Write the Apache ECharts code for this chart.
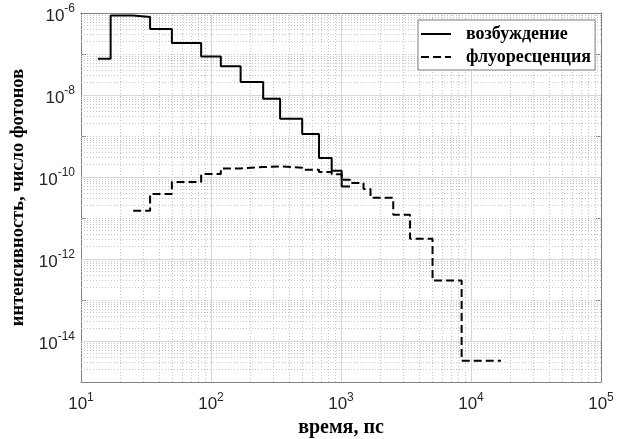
<!DOCTYPE html>
<html><head><meta charset="utf-8">
<script src="https://cdn.jsdelivr.net/npm/echarts@6/dist/echarts.min.js"></script>
<style>html,body{margin:0;padding:0;background:#fff}#c{width:630px;height:439px}</style>
</head><body><div id="c"></div>
<script>
// ---- data ----
const excitationEdges = [13.5, 16.9, 25.2, 34, 50, 84, 119, 169, 252, 340, 503, 677, 848, 1012, 1172];
const excitationValues = [7.7e-8, 8.7e-7, 8.0e-7, 4.1e-7, 1.85e-7, 8.7e-8, 5.0e-8, 2.07e-8, 8.1e-9, 2.64e-9, 1.12e-9, 2.9e-10, 1.43e-10, 5.9e-11];
const fluorescenceEdges = [25.2, 34, 50, 84, 119, 169, 252, 340, 503, 677, 848, 1012, 1172, 1489, 1686, 2523, 3396, 5060, 8470, 17000];
const fluorescenceValues = [1.51e-11, 3.85e-11, 7.55e-11, 1.18e-10, 1.62e-10, 1.75e-10, 1.81e-10, 1.69e-10, 1.51e-10, 1.32e-10, 1.16e-10, 8.6e-11, 7.1e-11, 5.1e-11, 3.1e-11, 1.2e-11, 3.1e-12, 3.0e-13, 3.3e-15];
const seriesNames = ['возбуждение', 'флуоресценция'];
const xTickExponents = [1, 2, 3, 4, 5];
const yTickExponents = [-14, -12, -10, -8, -6];
const xAxisName = 'время, пс';
const yAxisName = 'интенсивность, число фотонов';

// ---- build ----
function stepPoints(edges, vals) {
  const pts = [];
  for (let i = 0; i < vals.length; i++) {
    pts.push([edges[i], vals[i]]);
    pts.push([edges[i + 1], vals[i]]);
  }
  return pts;
}
const xMinExp = xTickExponents[0], xMaxExp = xTickExponents[xTickExponents.length - 1];
const yMinExp = -15, yMaxExp = yTickExponents[yTickExponents.length - 1];
const xMin = Math.pow(10, xMinExp), xMax = Math.pow(10, xMaxExp);
const yMin = Math.pow(10, yMinExp), yMax = Math.pow(10, yMaxExp);

function vLine(x) { return [{ coord: [x, yMin] }, { coord: [x, yMax] }]; }
function hLine(y) { return [{ coord: [xMin, y] }, { coord: [xMax, y] }]; }

const majorGrid = [], minorGrid = [];
for (let e = xMinExp; e <= xMaxExp; e++) {
  if (e > xMinExp && e < xMaxExp) majorGrid.push(vLine(Math.pow(10, e)));
  if (e < xMaxExp) for (let k = 2; k <= 9; k++) minorGrid.push(vLine(k * Math.pow(10, e)));
}
for (let e = yMinExp; e <= yMaxExp; e++) {
  if (yTickExponents.indexOf(e) >= 0) { if (e < yMaxExp) majorGrid.push(hLine(Math.pow(10, e))); }
  else if (e > yMinExp) minorGrid.push(hLine(Math.pow(10, e)));
  if (e < yMaxExp) for (let k = 2; k <= 9; k++) minorGrid.push(hLine(k * Math.pow(10, e)));
}

const tickColor = '#262626';
function richFor(baseTop) {
  return {
    b: { fontSize: 17, fontFamily: 'Liberation Sans', color: tickColor, padding: [baseTop, 0, 0, 0] },
    s: { fontSize: 12, fontFamily: 'Liberation Sans', color: tickColor, padding: [0, 0, 8, 0] }
  };
}
function fmt(list) {
  return function (v) {
    const e = Math.round(Math.log10(v));
    return list.indexOf(e) >= 0 ? '{b|10}{s|' + e + '}' : '';
  };
}
const boxColor = '#808080';
const anchorPoint = [[Math.pow(10, xMinExp + 1), Math.pow(10, yMinExp + 1)]];

const chart = echarts.init(document.getElementById('c'));
chart.setOption({
  animation: false,
  backgroundColor: '#fff',
  grid: { left: 81, right: 29, top: 13, bottom: 57, containLabel: false, outerBoundsMode: 'none' },
  legend: {
    data: seriesNames,
    orient: 'vertical',
    left: 418, top: 20, z: 20,
    backgroundColor: '#fff', borderColor: '#808080', borderWidth: 1, borderRadius: 0,
    padding: [4, 4, 3, 2],
    itemWidth: 30, itemHeight: 12, itemGap: 3,
    itemStyle: { color: 'rgba(0,0,0,0)', borderWidth: 0, opacity: 0 },
    textStyle: { fontFamily: 'Liberation Serif', fontWeight: 'bold', fontSize: 18, color: '#000', padding: [0, 0, 0, 10], lineHeight: 20 }
  },
  xAxis: [{
    type: 'log', logBase: 10, min: xMin, max: xMax, interval: 1,
    name: xAxisName, nameLocation: 'middle', nameGap: 34,
    nameTextStyle: { fontFamily: 'Liberation Serif', fontWeight: 'bold', fontSize: 20, color: '#000' },
    axisLine: { show: true, lineStyle: { color: boxColor, width: 1 } },
    axisTick: { show: true, inside: true, length: 5, lineStyle: { color: boxColor } },
    axisLabel: { formatter: fmt(xTickExponents), rich: richFor(6), margin: 8 },
    splitLine: { show: false }
  }, {
    type: 'log', logBase: 10, min: xMin, max: xMax, interval: 1, position: 'top',
    axisLine: { show: true, lineStyle: { color: boxColor, width: 1 } },
    axisTick: { show: true, inside: true, length: 5, lineStyle: { color: boxColor } },
    axisLabel: { show: false }, splitLine: { show: false }
  }],
  yAxis: [{
    type: 'log', logBase: 10, min: yMin, max: yMax, interval: 1,
    name: yAxisName, nameLocation: 'middle', nameGap: 32,
    nameTextStyle: { fontFamily: 'Liberation Serif', fontWeight: 'bold', fontSize: 18.5, color: '#000' },
    axisLine: { show: true, lineStyle: { color: boxColor, width: 1 } },
    axisTick: { show: true, inside: true, length: 5, lineStyle: { color: boxColor } },
    axisLabel: { formatter: fmt(yTickExponents), rich: richFor(6), margin: 6 },
    splitLine: { show: false }
  }, {
    type: 'log', logBase: 10, min: yMin, max: yMax, interval: 1, position: 'right',
    axisLine: { show: true, lineStyle: { color: boxColor, width: 1 } },
    axisTick: { show: true, inside: true, length: 5, lineStyle: { color: boxColor } },
    axisLabel: { show: false }, splitLine: { show: false }
  }],
  series: [{
    name: '_minorGrid', type: 'line', data: anchorPoint, z: 1, silent: true,
    symbol: 'none', lineStyle: { opacity: 0 },
    markLine: {
      silent: true, z: 1, symbol: ['none', 'none'], label: { show: false }, animation: false,
      lineStyle: { color: '#c4c4c4', width: 1, type: [1, 2] },
      data: minorGrid
    }
  }, {
    name: '_majorGrid', type: 'line', data: anchorPoint, z: 1, silent: true,
    symbol: 'none', lineStyle: { opacity: 0 },
    markLine: {
      silent: true, z: 1, symbol: ['none', 'none'], label: { show: false }, animation: false,
      lineStyle: { color: '#d6d6d6', width: 1, type: 'solid' },
      data: majorGrid
    }
  }, {
    name: seriesNames[0], type: 'line', data: stepPoints(excitationEdges, excitationValues),
    showSymbol: false, symbol: 'none', z: 5,
    lineStyle: { color: '#000', width: 2, type: 'solid' }, itemStyle: { color: '#000' }
  }, {
    name: seriesNames[1], type: 'line', data: stepPoints(fluorescenceEdges, fluorescenceValues),
    showSymbol: false, symbol: 'none', z: 5,
    lineStyle: { color: '#000', width: 2, type: [8, 4] }, itemStyle: { color: '#000' }
  }]
});
</script>
</body></html>
